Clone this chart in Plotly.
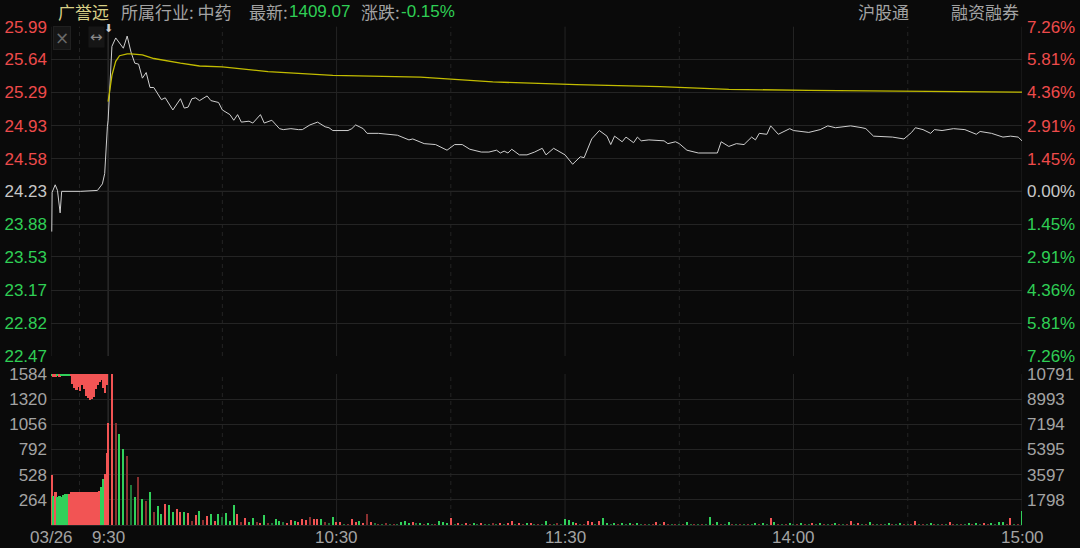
import plotly.graph_objects as go

# ---------------- data ----------------
prev_close = 24.23
price_ticks = [25.99, 25.64, 25.29, 24.93, 24.58, 24.23, 23.88, 23.53, 23.17, 22.82, 22.47]
pct_labels = ["7.26%", "5.81%", "4.36%", "2.91%", "1.45%", "0.00%",
              "1.45%", "2.91%", "4.36%", "5.81%", "7.26%"]
vol_left_ticks = [264, 528, 792, 1056, 1320, 1584]
vol_right_ticks = [1798, 3597, 5395, 7194, 8993, 10791]
time_tickvals = [-15, 0, 60, 120, 180, 240]
time_labels = ["03/26", "9:30", "10:30", "11:30", "14:00", "15:00"]
solid_times = [-15, 0, 60, 120, 180, 240]
dashed_times = [-7.5, 30, 90, 150, 210]

# pre-market (call auction) price, minutes relative to 9:30
pre_time = [-14.8, -14.7, -13.9, -13.3, -12.6, -12.2, -7.2, -2.8, -1.5, -0.9, -0.2]
pre_price = [23.80, 24.22, 24.30, 24.24, 24.00, 24.23, 24.23, 24.24, 24.31, 24.42, 24.92]

# continuous session price (minutes after 9:30)
main_time = [0, 1, 2, 4, 5, 6, 7, 8, 9, 10,
             11, 12, 13, 14, 15, 17, 19, 20, 21, 22,
             23, 24, 26, 27, 29, 30, 32, 33, 34, 35,
             37, 38, 40, 41, 43, 45, 46, 48, 50, 51,
             53, 55, 57, 58, 59, 63, 64, 65, 67, 68,
             71, 73, 76, 79, 80, 83, 86, 89, 91, 93,
             95, 98, 100, 102, 103, 104, 105, 106, 108, 110,
             112, 114, 115, 117, 120, 122, 124, 125, 127, 129,
             131, 132, 133, 135, 136, 138, 139, 140, 142, 146,
             147, 149, 150, 152, 155, 160, 161, 163, 165, 167,
             169, 170, 171, 173, 174, 176, 179, 180, 184, 187,
             189, 191, 195, 198, 199, 201, 204, 206, 209, 211,
             212, 214, 216, 217, 219, 222, 225, 228, 229, 232,
             235, 237, 239, 240]
main_price = [24.99, 25.78, 25.87, 25.76, 25.89, 25.72, 25.60, 25.59, 25.44, 25.50,
              25.34, 25.34, 25.28, 25.21, 25.23, 25.10, 25.22, 25.12, 25.13, 25.22,
              25.23, 25.20, 25.25, 25.20, 25.18, 25.10, 25.05, 24.99, 25.05, 24.97,
              24.98, 24.96, 25.05, 24.96, 24.99, 24.90, 24.89, 24.90, 24.89, 24.89,
              24.94, 24.97, 24.92, 24.91, 24.88, 24.88, 24.90, 24.94, 24.90, 24.85,
              24.85, 24.84, 24.83, 24.78, 24.79, 24.74, 24.73, 24.67, 24.73, 24.73,
              24.68, 24.65, 24.65, 24.67, 24.64, 24.66, 24.64, 24.68, 24.62, 24.62,
              24.65, 24.69, 24.62, 24.69, 24.62, 24.52, 24.60, 24.59, 24.79, 24.88,
              24.82, 24.73, 24.82, 24.76, 24.81, 24.75, 24.81, 24.77, 24.78, 24.77,
              24.74, 24.76, 24.74, 24.67, 24.64, 24.64, 24.76, 24.71, 24.74, 24.73,
              24.81, 24.78, 24.85, 24.84, 24.93, 24.84, 24.90, 24.88, 24.86, 24.89,
              24.93, 24.91, 24.93, 24.91, 24.90, 24.82, 24.81, 24.81, 24.79, 24.86,
              24.91, 24.89, 24.85, 24.89, 24.88, 24.90, 24.89, 24.84, 24.87, 24.85,
              24.81, 24.82, 24.81, 24.77]

# average price line
avg_time = [0, 1, 2, 3, 5, 6, 9, 12, 19, 24, 30, 42, 59, 82, 101, 123, 145, 163, 184, 211, 237, 240]
avg_price = [25.19, 25.47, 25.62, 25.68, 25.70, 25.70, 25.69, 25.65, 25.60, 25.57, 25.56,
             25.51, 25.47, 25.45, 25.40, 25.37, 25.35, 25.32, 25.31, 25.30, 25.29, 25.29]

# call-auction volume (left scale): matched (from bottom) and unmatched (hanging from top)
auction_time = [-14.75, -14.25, -13.75, -13.25, -12.75, -12.25, -11.75, -11.25, -10.75, -10.25,
                -9.75, -9.25, -8.75, -8.25, -7.75, -7.25, -6.75, -6.25, -5.75, -5.25,
                -4.75, -4.25, -3.75, -3.25, -2.75, -2.25, -1.75, -1.25, -0.75, -0.25]
auction_matched = [520, 300, 350, 290, 300, 290, 310, 320, 320, 330,
                   346, 346, 346, 346, 346, 346, 346, 346, 346, 346,
                   346, 346, 346, 346, 346, 360, 400, 480, 540, 760]
auction_matched_dir = "RGRGGGGGGRRRRRRRRRRRRRRRRRGGRR"
auction_unmatched = [15, 30, 30, 15, 35, 15, 15, 15, 15, 20,
                     25, 100, 150, 170, 140, 180, 120, 160, 230, 250,
                     270, 260, 240, 160, 120, 80, 60, 150, 200, 120]
auction_unmatched_dir = "GRRGRGGGGGRRRRRRRRRRRRRRRRRRRR"

# continuous-session volume per minute (right scale)
main_volume = [
    7300, 14000, 7290, 6500, 5450, 4910, 2840, 2000, 3410, 1860, 1740, 2360, 930, 1380, 810, 1500, 1450, 930, 1170, 930,
    930, 860, 260, 740, 980, 330, 670, 810, 260, 810, 550, 860, 260, 1450, 810, 200, 500, 200, 500, 200,
    100, 740, 120, 90, 450, 260, 200, 80, 330, 260, 200, 430, 330, 550, 430, 430, 450, 200, 90, 600,
    200, 200, 60, 50, 450, 200, 260, 150, 810, 200, 90, 70, 60, 80, 50, 60, 70, 250, 280, 150,
    250, 80, 150, 60, 150, 70, 60, 260, 220, 150, 480, 70, 150, 60, 150, 60, 150, 70, 130, 60,
    60, 80, 60, 150, 70, 150, 280, 60, 150, 70, 150, 120, 60, 70, 60, 290, 70, 60, 80, 60,
    400, 350, 200, 150, 70, 60, 290, 200, 60, 280, 500, 150, 60, 150, 60, 150, 60, 130, 60, 120,
    60, 70, 60, 60, 200, 60, 200, 60, 50, 60, 70, 60, 180, 60, 50, 60, 70, 60, 570, 60,
    180, 60, 70, 200, 60, 50, 60, 70, 60, 60, 150, 60, 150, 60, 480, 200, 60, 70, 60, 150,
    60, 70, 150, 60, 60, 150, 60, 150, 60, 70, 60, 120, 60, 60, 70, 290, 60, 150, 60, 70,
    200, 60, 70, 60, 60, 120, 60, 70, 120, 60, 60, 70, 280, 60, 70, 60, 150, 60, 70, 60,
    60, 200, 70, 60, 70, 60, 150, 70, 150, 60, 150, 60, 150, 70, 220, 180, 70, 480, 60, 60, 1000]
main_volume_dir = (
    "RRrGGrgGrGrGrGGRGGRR"
    "GRrRGrRGRGgGGGRrRGGr"
    "RGrgGGgRRGRRRrRRGrgG"
    "RRgrRRGRrRgrgrgrgGGG"
    "RgGrGgrGGGRgRgRrGgRg"
    "grgRgRRgRrGRgrgGrgrg"
    "GGGRgrRRgRGGgGrGgGrG"
    "grgrRgRrgrgrGgrgrgGr"
    "GrgGrgrgrgGrGgRGrgrG"
    "grGrgRgGrgrGrgrRgRgr"
    "GrgrgGrgGrgrRgrgGrgr"
    "gRrgrgGrGgRrGgGGrRgrG")
minutes = list(range(len(main_volume)))

# ---------------- styling ----------------
BG = "#0a0a0a"
GRID = "#242424"
RED = "#ee4b4b"
GREEN = "#2fcf55"
GRAY_TXT = "#a3a3a3"
BAR_COL = {"R": "#f25454", "G": "#31d05a", "r": "#8a3030", "g": "#1f7a3a"}
FONT = "Liberation Sans, Arial, sans-serif"
CJK = "Noto Sans CJK SC, sans-serif"

W, H = 1080, 548
x_dom = [51 / W, 1022 / W]
price_dom = [1 - 356 / H, 1 - 26.7 / H]
vol_dom = [1 - 525 / H, 1 - 374 / H]


def tick_color(v):
    if v > prev_close + 1e-9:
        return RED
    if v < prev_close - 1e-9:
        return GREEN
    return "#c8c8c8"


left_price_text = [f'<span style="color:{tick_color(v)}">{v:.2f}</span>' for v in price_ticks]
right_pct_text = [f'<span style="color:{tick_color(v)}">{p}</span>' for v, p in zip(price_ticks, pct_labels)]

fig = go.Figure()

# price line
fig.add_trace(go.Scatter(x=pre_time + main_time, y=pre_price + main_price, mode="lines",
                         line=dict(color="#cfcfcf", width=1), xaxis="x", yaxis="y",
                         hoverinfo="skip", showlegend=False))
# average line
fig.add_trace(go.Scatter(x=avg_time, y=avg_price, mode="lines",
                         line=dict(color="#c2bc00", width=1.3), xaxis="x", yaxis="y",
                         hoverinfo="skip", showlegend=False))
# invisible trace on right percent axis
fig.add_trace(go.Scatter(x=[main_time[0]], y=[main_price[0]], mode="lines", opacity=0,
                         xaxis="x", yaxis="y3", hoverinfo="skip", showlegend=False))

# auction volumes
fig.add_trace(go.Bar(x=auction_time, y=auction_matched, width=0.5,
                     marker=dict(color=[BAR_COL[c] for c in auction_matched_dir], line_width=0),
                     xaxis="x2", yaxis="y2", hoverinfo="skip", showlegend=False))
fig.add_trace(go.Bar(x=auction_time, y=auction_unmatched,
                     base=[vol_left_ticks[-1] - v for v in auction_unmatched], width=0.5,
                     marker=dict(color=[BAR_COL[c] for c in auction_unmatched_dir], line_width=0),
                     xaxis="x2", yaxis="y2", hoverinfo="skip", showlegend=False))
# session volumes
fig.add_trace(go.Bar(x=minutes, y=main_volume, width=0.32,
                     marker=dict(color=[BAR_COL[c] for c in main_volume_dir], line_width=0),
                     xaxis="x2", yaxis="y4", hoverinfo="skip", showlegend=False))

tickfont = dict(family=FONT, size=17, color=GRAY_TXT)

fig.update_layout(
    width=W, height=H, autosize=False,
    margin=dict(l=0, r=0, t=0, b=0, autoexpand=False),
    paper_bgcolor=BG, plot_bgcolor=BG,
    barmode="overlay", bargap=0,
    xaxis=dict(domain=x_dom, range=[-15, 240], anchor="y", showgrid=False, zeroline=False,
               showticklabels=False, fixedrange=True, automargin=False),
    xaxis2=dict(domain=x_dom, range=[-15, 240], anchor="y2", showgrid=False, zeroline=False,
                showticklabels=False, showline=True, linecolor=GRID, fixedrange=True,
                automargin=False),
    yaxis=dict(domain=price_dom, range=[price_ticks[-1], price_ticks[0]], anchor="x", side="left",
               tickmode="array", tickvals=price_ticks, ticktext=left_price_text,
               tickfont=tickfont, ticks="", ticklabelstandoff=3, automargin=False,
               showgrid=True, gridcolor=GRID, gridwidth=1, zeroline=False, fixedrange=True),
    yaxis3=dict(overlaying="y", anchor="x", side="right", range=[price_ticks[-1], price_ticks[0]],
                tickmode="array", tickvals=price_ticks, ticktext=right_pct_text,
                tickfont=tickfont, ticks="", ticklabelstandoff=4, automargin=False,
                showgrid=False, zeroline=False, fixedrange=True),
    yaxis2=dict(domain=vol_dom, range=[0, vol_left_ticks[-1]], anchor="x2", side="left",
                tickmode="array", tickvals=vol_left_ticks, ticktext=[str(v) for v in vol_left_ticks],
                tickfont=tickfont, ticks="", ticklabelstandoff=3, automargin=False,
                showgrid=True, gridcolor=GRID, zeroline=False, fixedrange=True),
    yaxis4=dict(overlaying="y2", anchor="x2", side="right", range=[0, vol_right_ticks[-1]],
                tickmode="array", tickvals=vol_right_ticks, ticktext=[str(v) for v in vol_right_ticks],
                tickfont=tickfont, ticks="", ticklabelstandoff=4, automargin=False,
                showgrid=False, zeroline=False, fixedrange=True),
)

shapes = []
for xref, dom in (("x", price_dom), ("x2", vol_dom)):
    for t in solid_times:
        shapes.append(dict(type="line", xref=xref, yref="paper", x0=t, x1=t, y0=dom[0], y1=dom[1],
                           line=dict(color="#3a3a3a" if t == 0 else GRID, width=1), layer="below"))
    for t in dashed_times:
        shapes.append(dict(type="line", xref=xref, yref="paper", x0=t, x1=t, y0=dom[0], y1=dom[1],
                           line=dict(color=GRID, width=1, dash="4px,4px"), layer="below"))
# previous close line
shapes.append(dict(type="line", xref="paper", yref="y", x0=x_dom[0], x1=x_dom[1],
                   y0=prev_close, y1=prev_close, line=dict(color="#3a3a3a", width=1), layer="below"))
fig.update_layout(shapes=shapes)

ann = []
# time-axis labels (placed at their axis values on the volume x axis)
for tv, tl in zip(time_tickvals, time_labels):
    ann.append(dict(xref="x2", yref="paper", x=tv, y=1 - 537 / H, text=tl, showarrow=False,
                    xanchor="center", yanchor="middle",
                    font=dict(family=FONT, size=17, color=GRAY_TXT)))

# header texts
hdr_y = 1 - 12 / H
header = [
    (56, "广誉远", "#d8cf86"),
    (119, "所属行业: 中药", GRAY_TXT),
    (247, "最新:", GRAY_TXT),
    (287, "1409.07", GREEN),
    (359, "涨跌:", GRAY_TXT),
    (399, "-0.15%", GREEN),
    (856, "沪股通", GRAY_TXT),
    (949, "融资融券", GRAY_TXT),
]
for xpix, txt, col in header:
    fam = FONT if txt[0].isdigit() or txt[0] == "-" else CJK
    ann.append(dict(xref="paper", yref="paper", x=xpix / W, y=hdr_y, xanchor="left", yanchor="middle",
                    text=txt, showarrow=False, font=dict(family=fam, size=17, color=col)))
# small tool icons
ann.append(dict(xref="paper", yref="paper", x=61.5 / W, y=1 - 38 / H, text="×", showarrow=False,
                font=dict(family="DejaVu Sans", size=17, color="#6a6a6a"), bgcolor="#161616",
                bordercolor="#202020", borderpad=1, xanchor="center", yanchor="middle"))
ann.append(dict(xref="paper", yref="paper", x=96 / W, y=1 - 37 / H, text="↔", showarrow=False,
                font=dict(family="DejaVu Sans", size=15, color="#8a8a8a"), bgcolor="#161616",
                borderpad=1, xanchor="center", yanchor="middle"))
ann.append(dict(xref="x", yref="paper", x=0, y=1 - 28 / H, text="⬇", showarrow=False,
                font=dict(family="DejaVu Sans", size=11, color="#d0d0d0"),
                xanchor="center", yanchor="middle"))
fig.update_layout(annotations=ann)

fig.write_html("out.html", config={"displayModeBar": False},
               post_script="document.body.style.margin='0px';document.body.style.background='#0a0a0a';")
